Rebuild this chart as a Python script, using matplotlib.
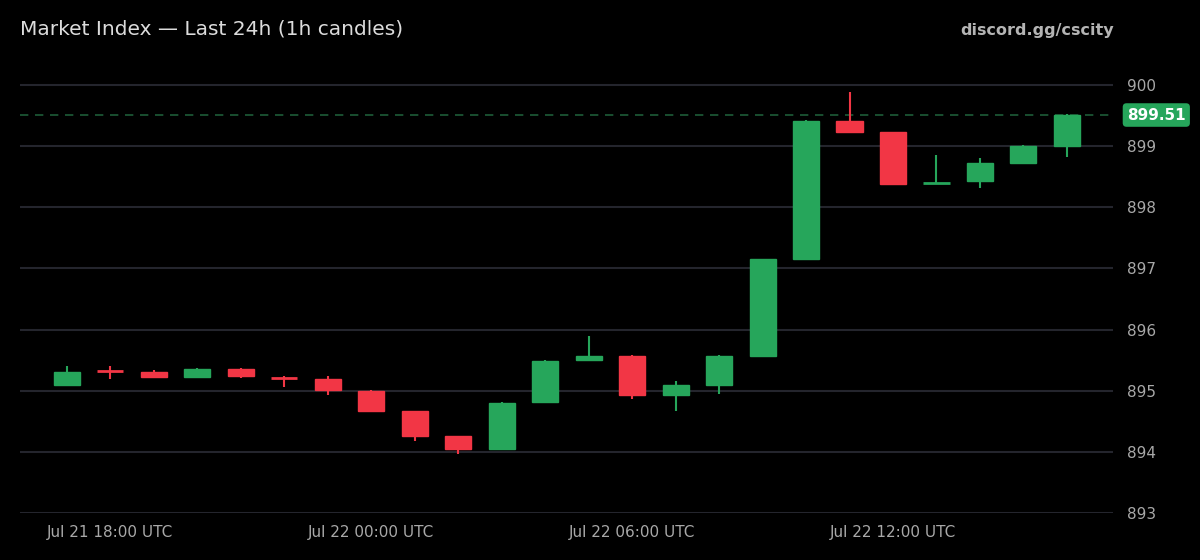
import matplotlib
matplotlib.use("Agg")
import matplotlib.pyplot as plt
from datetime import datetime, timedelta

# hourly candles, Jul 21 17:00 -> Jul 22 16:00 UTC
start = datetime(2024, 7, 21, 17, 0)
opens  = [895.09, 895.33, 895.30, 895.22, 895.36, 895.22, 895.19, 895.00, 894.67, 894.26, 894.05, 894.82,
          895.50, 895.57, 894.93, 895.09, 895.57, 897.15, 899.41, 899.23, 898.38, 898.43, 898.72, 899.01]
highs  = [895.40, 895.40, 895.34, 895.37, 895.37, 895.24, 895.24, 895.01, 894.67, 894.26, 894.82, 895.50,
          895.89, 895.58, 895.16, 895.58, 897.16, 899.43, 899.89, 899.23, 898.86, 898.81, 899.02, 899.52]
lows   = [895.09, 895.19, 895.21, 895.22, 895.21, 895.06, 894.93, 894.65, 894.18, 893.97, 894.05, 894.82,
          895.50, 894.86, 894.67, 894.95, 895.57, 897.15, 899.21, 898.37, 898.38, 898.32, 898.72, 898.82]
closes = [895.31, 895.32, 895.22, 895.36, 895.24, 895.20, 895.01, 894.67, 894.26, 894.05, 894.80, 895.49,
          895.57, 894.93, 895.09, 895.56, 897.15, 899.41, 899.23, 898.38, 898.40, 898.72, 899.00, 899.51]
last_price = 899.51
yticks = [893, 894, 895, 896, 897, 898, 899, 900]

times = [start + timedelta(hours=i) for i in range(len(opens))]

GREEN = "#26a65b"
RED = "#f23645"
BG = "#000000"

fig = plt.figure(figsize=(12, 5.6), dpi=100, facecolor=BG)
ax = fig.add_axes([20 / 1200, 1 - 513 / 560, 1093 / 1200, 453 / 560])
ax.set_facecolor(BG)

for i in range(len(opens)):
    o, h, l, c = opens[i], highs[i], lows[i], closes[i]
    col = GREEN if c >= o else RED
    ax.vlines(i, l, h, color=col, linewidth=1.5, zorder=3)
    lo, hi = min(o, c), max(o, c)
    if hi - lo < 0.03:
        ax.hlines((o + c) / 2, i - 0.3, i + 0.3, color=col, linewidth=2, zorder=3)
    else:
        ax.bar(i, hi - lo, bottom=lo, width=0.6, color=col, edgecolor=col, linewidth=1, zorder=3)

ax.axhline(last_price, color="#1e5c38", linestyle=(0, (5, 4)), linewidth=1.2, zorder=2)

ax.set_xlim(-1.08, len(opens) - 1 + 1.06)
ax.set_ylim(893, 900.41)
ax.set_yticks(yticks)
ax.yaxis.tick_right()
ax.grid(axis="y", color="#24252d", linewidth=1.5, zorder=0)
ax.grid(axis="x", visible=False)

xt = [i for i, t in enumerate(times) if t.hour % 6 == 0]
ax.set_xticks(xt)
ax.set_xticklabels([times[i].strftime("%b %d %H:%M UTC") for i in xt])
ax.tick_params(axis="both", length=0, colors="#a8a8a8")
ax.tick_params(axis="y", pad=10, labelsize=11)
ax.tick_params(axis="x", pad=9, labelsize=11)
for s in ax.spines.values():
    s.set_visible(False)

ax.text(1.0 + 14 / 1093, last_price, f"{last_price:.2f}", transform=ax.get_yaxis_transform(),
        ha="left", va="center", fontsize=11, fontweight="bold", color="white",
        bbox=dict(boxstyle="round,pad=0.28,rounding_size=0.25", facecolor=GREEN, edgecolor="none"))

fig.text(20 / 1200, 1 - 29 / 560, "Market Index \u2014 Last 24h (1h candles)", fontsize=14.5,
         color="#dcdcdc", ha="left", va="center")
fig.text(1114 / 1200, 1 - 30 / 560, "discord.gg/cscity", fontsize=11.5, fontweight="bold",
         color="#b4b4b4", ha="right", va="center")

fig.savefig("out.png", dpi=100, facecolor=BG)
